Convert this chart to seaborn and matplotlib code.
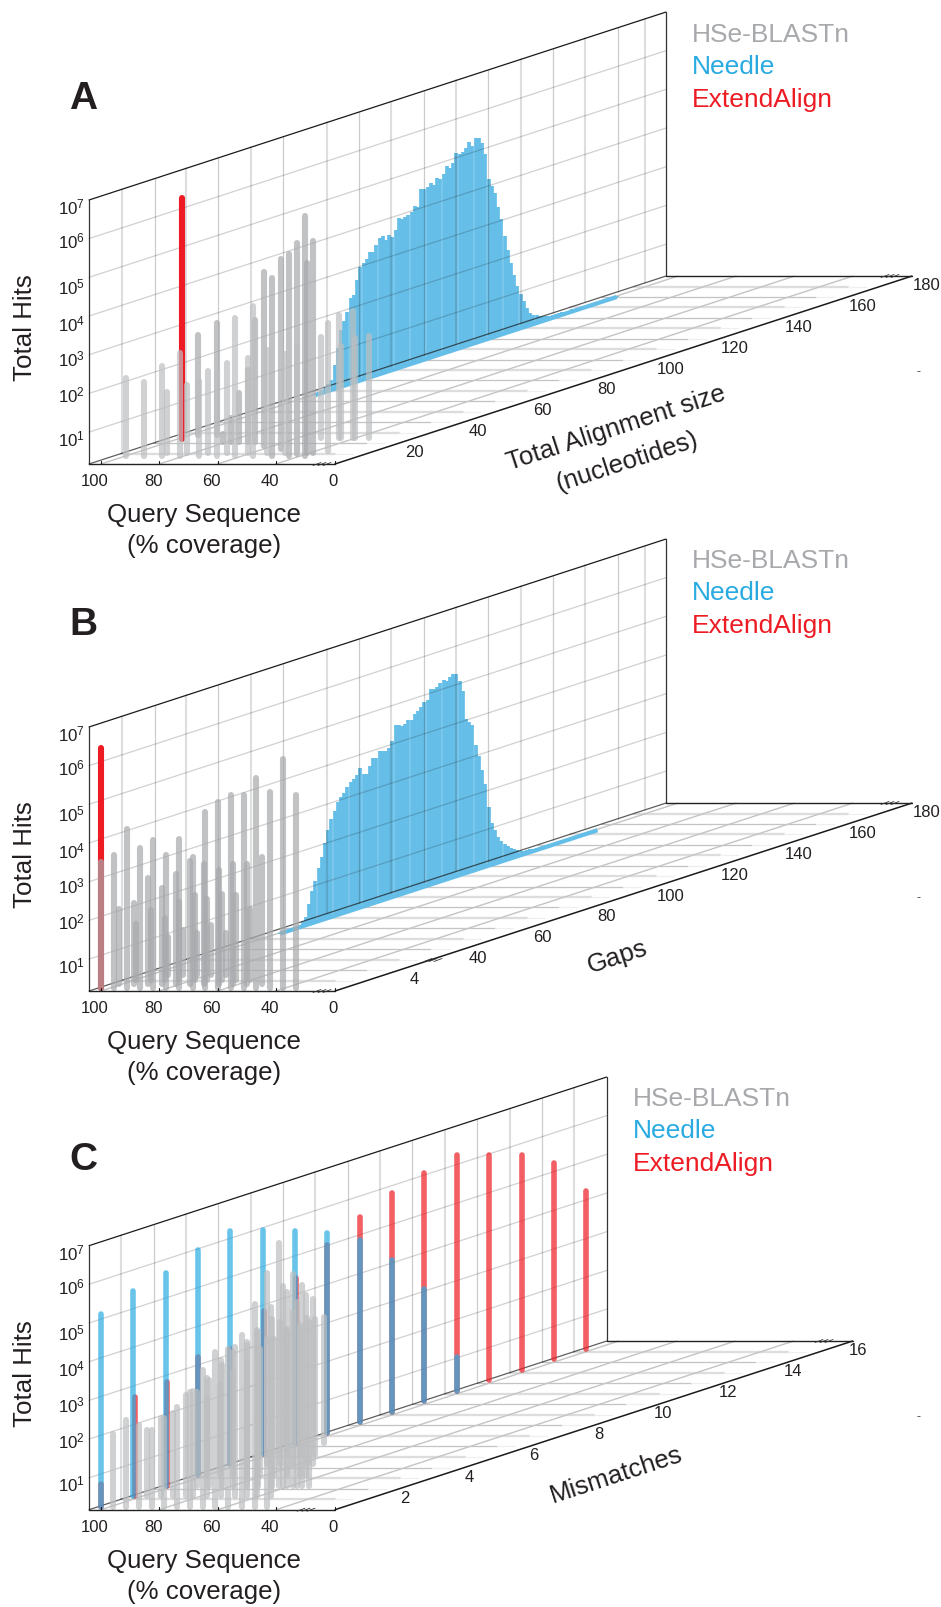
import numpy as np
import pandas as pd
import matplotlib
matplotlib.use("Agg")
import matplotlib.pyplot as plt
import seaborn as sns

# values, hits are kept as log10
# Panel A : total alignment size
a_light_cov = [100.2, 94, 87.8, 81.6, 75.3, 69.1, 62.9, 56.6, 89.5, 82.5, 75.5, 68.8, 61.8, 55.3, 49, 45, 51.9, 45.7, 45, 41, 40.4, 35.6, 35.3]
a_light_size = [8, 8, 8, 8, 8, 8, 8, 8, 11, 11, 11, 11, 11, 11, 11, 11, 25, 25, 25, 25, 25, 25, 12]
a_light_log = [2.19, 2.09, 2.5, 2.84, 2.11, 2.3, 3.72, 4.05, 1.74, 1.93, 2.29, 2.5, 2.61, 2.83, 2.73, 2.89, 2.79, 3.36, 2.54, 3.45, 2.75, 2.82, 3.49]
a_dark_cov = [50.2, 44.4, 38.8, 39.2, 41.4, 97.4, 91.1, 81.4, 78.6, 75.6, 72.7, 70.1, 62.7, 53.7, 43.7]
a_dark_size = [8, 8, 8, 11, 11, 28, 28, 21, 21, 21, 21, 21, 17, 14, 10]
a_dark_log = [4.77, 5.38, 6.36, 5.64, 5.07, 2.76, 3.06, 0.39, 0.8, 1.44, 2.03, 3.34, 4.67, 5.1, 5.61]
a_red_cov = [98.7]
a_red_size = [24]
a_red_log = [6.41]
a_needle_first = 66
a_needle_log = [0.20, 0.22, 0.25, 0.30, 0.36, 0.44,
                0.80, 1.20, 1.65, 1.85, 2.05, 2.40, 2.45, 2.80, 3.10,
                3.18, 3.25, 3.42, 3.40, 3.55, 3.70, 3.72, 3.60, 3.68, 3.62,
                3.78, 4.05, 4.00, 4.02, 4.06, 4.10, 4.22, 4.18, 4.60, 4.58,
                4.62, 4.68, 4.60, 4.76, 4.72, 4.80, 5.00, 4.90, 5.02, 5.25,
                5.20, 5.22, 5.30, 5.42, 5.30, 5.46, 5.44, 5.30, 4.98, 4.30,
                4.10, 3.90, 3.50, 3.15, 2.70, 2.30, 1.95, 1.60, 1.30, 1.05,
                0.85, 0.65, 0.50, 0.42, 0.38, 0.33, 0.30, 0.28, 0.26, 0.25,
                0.24, 0.24, 0.24, 0.23, 0.23, 0.23, 0.22, 0.22, 0.22, 0.22,
                0.21, 0.21, 0.21, 0.20, 0.20, 0.20, 0.20, 0.19, 0.19, 0.19]

# Panel B : gaps
b_grey_cov = [100, 95.5, 91.2, 86.6, 82.3, 77.8, 73.2, 68.6, 64.3, 59.8, 55.4, 50.9, 46.7, 42.1, 37.7, 33.2,
              98.2, 93.1, 88.3, 83.4, 78.7, 73.7, 69, 63.9, 59.2, 54.2, 49.3,
              96.7, 91.7, 86.9, 82.1, 76.5, 72.4, 67.4, 62.5, 57.6,
              90.2, 85.2, 80.4, 75.6, 70.3]
b_grey_gaps = [0] * 16 + [4] * 11 + [8] * 9 + [12] * 5
b_grey_log = [3.51, 3.70, 4.36, 3.86, 4.09, 3.69, 4.10, 3.64, 4.81, 5.06, 5.24, 5.24, 5.68, 5.32, 6.18, 5.24,
              2.18, 2.35, 2.98, 2.74, 3.09, 3.43, 3.34, 3.2, 3.35, 3.35, 3.52,
              1.7, 2.05, 1.85, 2.26, 2.44, 2.35, 2.46, 2.45, 2.09,
              1.25, 1.43, 1.34, 1.57, 1.34]
b_red_cov = [100]
b_red_gaps = [0]
b_red_log = [6.46]
b_needle_first = 55
b_needle_log = [0.18, 0.18, 0.19, 0.19, 0.20, 0.20,
                0.22, 0.30, 0.40, 0.70, 1.00, 1.25, 1.55, 1.80, 2.15, 2.45,
                2.70, 2.88, 3.10, 3.20, 3.28, 3.40, 3.50, 3.54, 3.62, 3.78,
                3.60, 3.56, 3.75, 3.92, 3.90, 4.05, 4.02, 4.00, 4.05, 4.20,
                4.60, 4.58, 4.52, 4.55, 4.62, 4.60, 4.72, 4.78, 4.85, 4.94,
                4.98, 5.24, 5.20, 5.22, 5.30, 5.36, 5.30, 5.38, 5.42, 5.40,
                5.20, 4.90, 4.15, 4.05, 3.95, 3.40, 3.10, 2.70, 2.32, 1.70,
                1.25, 1.05, 0.85, 0.70, 0.60, 0.52, 0.45, 0.38, 0.33, 0.28,
                0.26, 0.25, 0.25, 0.24, 0.24, 0.23, 0.23, 0.22, 0.22, 0.22,
                0.21, 0.21, 0.21, 0.21, 0.20, 0.20, 0.20, 0.20, 0.19, 0.19, 0.19, 0.19, 0.19, 0.19]

# Panel C : mismatches
c_mismatch = list(range(16))
c_needle_log = [5.24, 5.56, 5.75, 6.08, 6.30, 6.05, 5.75, 5.43, 4.97, 4.18, 3.16, 1.13]
c_red_cov = [100, 99.6, 99.6, 100, 100, 99.6, 99.6, 100, 100, 100, 100, 100, 100, 100, 100, 100]
c_red_log = [0.84, 2.82, 2.92, 3.31, 3.25, 3.95, 4.52, 5.12, 5.57, 5.92, 6.14, 6.35, 6.08, 5.81, 5.31, 4.33]
c_grey_cov = [96, 91.5, 87.1, 82.6, 78.3, 74, 69.5, 65.1, 60.9, 56.3, 51.7, 47.2, 43.2,
              95.2, 90.5, 86.3, 81.9, 79.4, 74.8, 70, 65.1, 60.9, 57.7, 52.9,
              61, 59.7, 58.3, 56.2, 55, 53.3, 50.7, 89.3, 85.3, 80.8, 76.8, 72.2, 68.2, 63.6,
              97, 92.4, 87.9, 83.3, 78.7, 74.1, 69.5, 65, 62.9,
              71.5, 87.5, 82.9, 78.4, 73.8,
              91.8, 87.2, 82.1, 90.2]
c_grey_mis = [0] * 13 + [1] * 11 + [2] * 14 + [3] * 9 + [4] * 5 + [5] * 3 + [6]
c_grey_log = [2.14, 2.49, 2.36, 2.23, 2.55, 2.83, 3.22, 3.78, 4.25, 4.32, 4.69, 5.5, 6.28,
              1.96, 2.28, 2.39, 2.86, 2.97, 3.31, 3.77, 4.11, 4.24, 4.54, 5.15,
              6.51, 5.42, 5.26, 5.73, 5.0, 5.45, 4.48, 2.68, 2.98, 3.37, 3.71, 3.88, 4.23, 4.57,
              2.23, 2.58, 2.92, 3.18, 3.52, 3.78, 4.04, 4.04, 4.9,
              4.52, 3.51, 3.94, 4.2, 4.03,
              3.41, 3.58, 3.75, 3.53]

# axis labels
cov_ticks = [100, 80, 60, 40]
log_ticks = [1, 2, 3, 4, 5, 6, 7]
log_label_shift = [6, 1, 4, 7, 9, 2, 7]
wall_ab = [10.3, 20.5, 30.4, 40.4, 50.6, 60.6, 74.3, 84.2, 94.2, 104.4, 114.6, 124.6, 134.8, 144.7, 154.7, 164.9, 173.4]
wall_c = list(range(1, 16))
size_ticks = [20, 40, 60, 80, 100, 120, 140, 160, 180]
size_labels = ['20', '40', '60', '80', '100', '120', '140', '160', '180']
gap_labels = ['4', '40', '60', '80', '100', '120', '140', '160', '180']
mis_ticks = [2, 4, 6, 8, 10, 12, 14, 16]
mis_labels = ['2', '4', '6', '8', '10', '12', '14', '16']

GREY = '#a7a9ac'
BLUE = '#29abe2'
RED = '#ed1c24'
HIST = '#64bee8'
INK = '#231f20'
LOG_FLOOR = 0.176
PX_DECADE = 38.7
PX = 0.72   # pixels to points at dpi 100

sns.set_theme(style='white')
plt.rcParams['font.family'] = ['Liberation Sans', 'DejaVu Sans']
plt.rcParams['mathtext.fontset'] = 'custom'
plt.rcParams['mathtext.rm'] = 'Liberation Sans'

fig, ax = plt.subplots(figsize=(9.41, 16.08), dpi=100)
ax.set_position([0, 0, 1, 1])


def project(cov, depth, log_hits, panel):
    x = 101 + (100 - np.asarray(cov, float)) * 2.915 + np.asarray(depth, float) * panel['kx']
    y = panel['y0'] - np.asarray(depth, float) * panel['ky'] - (np.asarray(log_hits, float) - LOG_FLOOR) * PX_DECADE
    return x, y


def draw_bars(cov, depth, logs, panel, color, alpha=1.0, width=6.1, lift=0.0, z=4, cap='round'):
    n = len(logs)
    cov = np.broadcast_to(cov, n)
    depth = np.broadcast_to(depth, n)
    x0, y0 = project(cov, depth, np.full(n, LOG_FLOOR + lift), panel)
    x1, y1 = project(cov, depth, logs, panel)
    df = pd.DataFrame({'px': np.r_[x0, x1], 'py': np.r_[y0, y1], 'bar': np.r_[np.arange(n), np.arange(n)]})
    sns.lineplot(data=df, x='px', y='py', units='bar', estimator=None, errorbar=None, sort=False,
                 color=color, alpha=alpha, lw=width * PX, solid_capstyle=cap, legend=False, ax=ax, zorder=z)


def draw_histogram(first, logs, panel):
    # square topped bars plus the strip the bars stand on
    sizes = np.arange(first, first + len(logs))
    draw_bars(99, sizes, logs, panel, HIST, width=3.7, z=2, cap='butt')
    xb, yb = project(np.full(len(logs), 99), sizes, np.full(len(logs), LOG_FLOOR), panel)
    strip = pd.DataFrame({'px': xb, 'py': yb})
    sns.lineplot(data=strip, x='px', y='py', estimator=None, errorbar=None, sort=False, color=HIST,
                 lw=4.2 * PX, solid_capstyle='butt', legend=False, ax=ax, zorder=2)


def frame(panel, walls):
    kx, ky, y0, dmax = panel['kx'], panel['ky'], panel['y0'], panel['dmax']
    top = 264
    # floor lines across
    for i, d in enumerate(panel['floor']):
        y = y0 - ky * d
        end = 335 + kx * d
        light = i % 2 == 0
        ax.plot([89 + kx * d, end - 32], [y, y], color='#dddddd' if light else '#c4c4c4',
                lw=(1.8 if light else 1.0) * PX * 1.3, zorder=1)
        ax.plot([end - 32, end - 14], [y, y], color='#efefef', lw=1.2 * PX, zorder=1)
    # floor lines going back
    for c in cov_ticks:
        x0 = 101 + (100 - c) * 2.915
        ax.plot([x0, x0 + kx * dmax], [y0, y0 - ky * dmax], color='#c4c4c4', lw=1.0, zorder=1)
        ax.plot([x0, x0], [y0, y0 - 3], color='k', lw=0.8, zorder=6)
    # wall grid
    for v in log_ticks[:-1]:
        y = y0 - (v - LOG_FLOOR) * PX_DECADE
        ax.plot([89, 89 + kx * dmax], [y, y - ky * dmax], color='k', alpha=0.2, lw=0.9, zorder=3)
    for i, d in enumerate(walls):
        x = 89 + kx * d
        y = y0 - ky * d
        ax.plot([x, x], [y, y - top], color='k', alpha=0.14 if i % 2 == 0 else 0.22,
                lw=1.5 if i % 2 == 0 else 0.9, zorder=3)
    # box
    bx = 89 + kx * dmax
    by = y0 - ky * dmax
    ax.plot([89, bx], [y0 - top, by - top], color='k', lw=0.9, zorder=3)
    ax.plot([89, 89], [y0 - top, y0], color='#333333', lw=0.9, zorder=3)
    ax.plot([bx, bx], [by - top, by], color='#333333', lw=0.9, zorder=3)
    ax.plot([89, bx], [y0, by], color='k', alpha=0.7, lw=0.9, zorder=3)
    ax.plot([89, 335], [y0, y0], color='#222222', lw=1.0, zorder=6)
    ax.plot([335, 335 + kx * dmax], [y0, by], color='k', lw=1.1, zorder=6)
    ax.plot([bx, 335 + kx * dmax], [by, by], color='#222222', lw=1.0, zorder=6)
    ax.plot([335, 335], [y0, y0 - 3], color='k', lw=0.8, zorder=6)
    # axis breaks
    for bxp, byp in panel['breaks']:
        for off in (-3, 2, 7):
            ax.plot([bxp + off - 4, bxp + off + 4], [byp + 1.5, byp - 1.5], color='#333333', lw=0.6, zorder=7)
    # tick labels
    for c in cov_ticks:
        ax.text(101 + (100 - c) * 2.915 - 6, y0 + 17, str(c), ha='center', va='center', fontsize=12, color=INK)
    ax.text(333, y0 + 17, '0', ha='center', va='center', fontsize=12, color=INK)
    for v, s in zip(log_ticks, log_label_shift):
        ax.text(85, y0 - (v - LOG_FLOOR) * PX_DECADE + s, rf'$\mathregular{{10^{{{v}}}}}$',
                ha='right', va='center', fontsize=12.2, color=INK)
    for d, lab in zip(panel['ticks'], panel['labels']):
        ax.text(335 + kx * d + panel['lab_dx'], y0 - ky * d + 8.5, lab, ha='center', va='center', fontsize=12, color=INK)
    # titles
    ax.text(25, y0 - 137, 'Total Hits', rotation=90, ha='center', va='center', fontsize=18.6, color=INK)
    ax.text(204, y0 + 50, 'Query Sequence', ha='center', va='center', fontsize=18.6, color=INK)
    ax.text(204, y0 + 81, '(% coverage)', ha='center', va='center', fontsize=18.6, color=INK)
    # legend
    lx, ly = panel['legend']
    for i, (lab, col) in enumerate([('HSe-BLASTn', GREY), ('Needle', BLUE), ('ExtendAlign', RED)]):
        ax.text(lx, ly + i * 32.3, lab, ha='left', va='center', fontsize=19, color=col)
    ax.text(83, panel['letter_y'], panel['letter'], ha='center', va='center', fontsize=28,
            fontweight='bold', color=INK)
    ax.text(919, panel['dash'], '-', ha='center', va='center', fontsize=9, color='#444444')


panel_a = dict(kx=3.205, ky=1.044, y0=465, dmax=180, floor=list(range(10, 180, 10)), ticks=size_ticks,
               labels=size_labels, lab_dx=15, legend=(692, 35), letter='A', letter_y=99, dash=372,
               breaks=[(320, 465), (888, 277)])
panel_b = dict(panel_a, y0=992, labels=gap_labels, legend=(692, 561), letter='B', letter_y=625, dash=898,
               breaks=[(320, 992), (888, 804), (431, 961)])
panel_c = dict(kx=32.35, ky=10.54, y0=1510.7, dmax=16, floor=list(range(1, 16)), ticks=mis_ticks,
               labels=mis_labels, lab_dx=5, legend=(632.5, 1099), letter='C', letter_y=1160, dash=1417,
               breaks=[(304, 1510.7), (822, 1342)])

# A
frame(panel_a, wall_ab)
draw_histogram(a_needle_first, a_needle_log, panel_a)
draw_bars(a_red_cov, a_red_size, a_red_log, panel_a, RED, z=3.5)
draw_bars(a_dark_cov, a_dark_size, a_dark_log, panel_a, GREY, alpha=0.7)
draw_bars(a_light_cov, a_light_size, a_light_log, panel_a, '#bcbec0', alpha=0.7)
ax.text(616, 428, 'Total Alignment size', rotation=18, ha='center', va='center', fontsize=18.6, color=INK)
ax.text(627, 462, '(nucleotides)', rotation=18, ha='center', va='center', fontsize=18.6, color=INK)

# B
frame(panel_b, wall_ab)
draw_histogram(b_needle_first, b_needle_log, panel_b)
draw_bars(b_red_cov, b_red_gaps, b_red_log, panel_b, RED, lift=0.08, z=3.5)
draw_bars(b_grey_cov, b_grey_gaps, b_grey_log, panel_b, GREY, alpha=0.7, lift=0.08)
ax.text(617, 957, 'Gaps', rotation=18, ha='center', va='center', fontsize=18.6, color=INK)

# C
frame(panel_c, wall_c)
draw_bars(c_red_cov, c_mismatch, c_red_log, panel_c, RED, alpha=0.7, width=5.6, lift=0.08, z=3.5)
draw_bars(100, c_mismatch[:len(c_needle_log)], c_needle_log, panel_c, BLUE, alpha=0.7, width=5.6, lift=0.08, z=3.7)
draw_bars(c_grey_cov, c_grey_mis, c_grey_log, panel_c, '#bcbec0', alpha=0.7, lift=0.08)
ax.text(616, 1475, 'Mismatches', rotation=18, ha='center', va='center', fontsize=18.6, color=INK)

ax.set_xlim(0, 941)
ax.set_ylim(1608, 0)
ax.set_axis_off()
fig.savefig('out.png', dpi=100)
